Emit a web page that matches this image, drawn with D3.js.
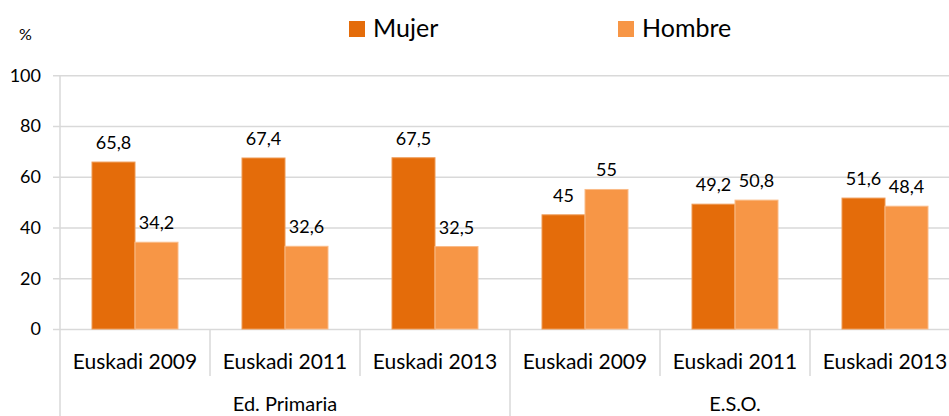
<!DOCTYPE html>
<html><head><meta charset="utf-8">
<script src="https://cdn.jsdelivr.net/npm/d3@7"></script>
<style>html,body{margin:0;padding:0;background:#fff;overflow:hidden}text{font-family:Lato,"Open Sans",sans-serif;fill:#000}</style>
</head><body>
<svg id="c" width="949" height="416"></svg>
<script>
const groups = ["Ed. Primaria", "E.S.O."];
const categories = ["Euskadi 2009", "Euskadi 2011", "Euskadi 2013", "Euskadi 2009", "Euskadi 2011", "Euskadi 2013"];
const categoryGroup = [0, 0, 0, 1, 1, 1];
const seriesNames = ["Mujer", "Hombre"];
const mujer = [65.8, 67.4, 67.5, 45, 49.2, 51.6];
const hombre = [34.2, 32.6, 32.5, 55, 50.8, 48.4];
const yTicks = [0, 20, 40, 60, 80, 100];
const colors = ["#E46C0A", "#F79646"];

(function () {
const svg = d3.select("#c");
const pLeft = 60, pRight = 960, pTop = 75.3, pBottom = 329;
const idx = d3.range(categories.length);
const x0 = d3.scaleBand().domain(idx).range([pLeft, pRight]);
const x1 = d3.scaleBand().domain(seriesNames).range([32, 118]);
const y = d3.scaleLinear().domain([0, 100]).range([pBottom, pTop]);
const grid = "#d9d9d9";

// gridlines + y tick labels
const yAxis = d3.axisLeft(y).tickValues(yTicks).tickSize(0).tickPadding(12).tickFormat(d3.format("d"));
const ga = svg.append("g").attr("transform", `translate(${pLeft - 7},0)`);
ga.call(yAxis);
ga.select(".domain").remove();
ga.selectAll(".tick line").remove();
ga.selectAll(".tick").append("line").attr("x1", 0).attr("x2", pRight - pLeft + 7).attr("stroke", grid).attr("stroke-width", 1.5);
ga.selectAll(".tick text").attr("font-size", 18).attr("font-family", "Lato").attr("fill", "#000");

// y axis vertical line
svg.append("line").attr("x1", pLeft).attr("x2", pLeft).attr("y1", pTop).attr("y2", 416).attr("stroke", grid).attr("stroke-width", 1.5);

// bars
const data = idx.map(i => ({ i, vals: [mujer[i], hombre[i]] }));
const gc = svg.selectAll("g.cat").data(data).join("g").attr("class", "cat")
  .attr("transform", d => `translate(${x0(d.i)},0)`);
gc.selectAll("rect").data(d => d.vals.map((v, k) => ({ v, k }))).join("rect")
  .attr("x", d => x1(seriesNames[d.k]))
  .attr("y", d => y(d.v))
  .attr("width", x1.bandwidth())
  .attr("height", d => y(0) - y(d.v))
  .attr("fill", d => colors[d.k])
  .attr("stroke", d => d.k === 0 ? "#EE9A55" : "#FABB88")
  .attr("stroke-width", 1);
gc.selectAll("text.v").data(d => d.vals.map((v, k) => ({ v, k }))).join("text").attr("class", "v")
  .attr("x", d => x1(seriesNames[d.k]) + x1.bandwidth() / 2)
  .attr("y", d => y(d.v) - 13)
  .attr("text-anchor", "middle").attr("font-size", 18)
  .text(d => String(d.v).replace(".", ","));

// category dividers and labels
idx.forEach(i => {
  const xs = x0(i);
  const isGroupStart = i === 0 || categoryGroup[i] !== categoryGroup[i - 1];
  if (!isGroupStart) svg.append("line").attr("x1", xs).attr("x2", xs).attr("y1", pBottom).attr("y2", 376).attr("stroke", grid).attr("stroke-width", 1.5);
});
svg.append("line").attr("x1", pRight).attr("x2", pRight).attr("y1", pBottom).attr("y2", 416).attr("stroke", grid).attr("stroke-width", 1.5);
svg.selectAll("text.catl").data(idx).join("text").attr("class", "catl")
  .attr("x", i => x0(i) + x0.bandwidth() / 2).attr("y", 368.5)
  .attr("text-anchor", "middle").attr("font-size", 21).text(i => categories[i]);

// group dividers and labels
groups.forEach((g, gi) => {
  const members = idx.filter(i => categoryGroup[i] === gi);
  const gx0 = x0(members[0]), gx1 = x0(members[members.length - 1]) + x0.bandwidth();
  if (gi > 0) svg.append("line").attr("x1", gx0).attr("x2", gx0).attr("y1", pBottom).attr("y2", 416).attr("stroke", grid).attr("stroke-width", 1.5);
  svg.append("text").attr("x", (gx0 + gx1) / 2).attr("y", 411).attr("text-anchor", "middle").attr("font-size", 20).text(g);
});

// "%" label
svg.append("text").attr("x", 19).attr("y", 40).attr("font-size", 16).text("%");

// legend
const legendX = [349, 618];
seriesNames.forEach((s, k) => {
  svg.append("rect").attr("x", legendX[k]).attr("y", 21).attr("width", 16).attr("height", 16).attr("fill", colors[k]);
  svg.append("text").attr("x", legendX[k] + 24).attr("y", 36.7).attr("font-size", 25).text(s);
});
})();
</script>
</body></html>
